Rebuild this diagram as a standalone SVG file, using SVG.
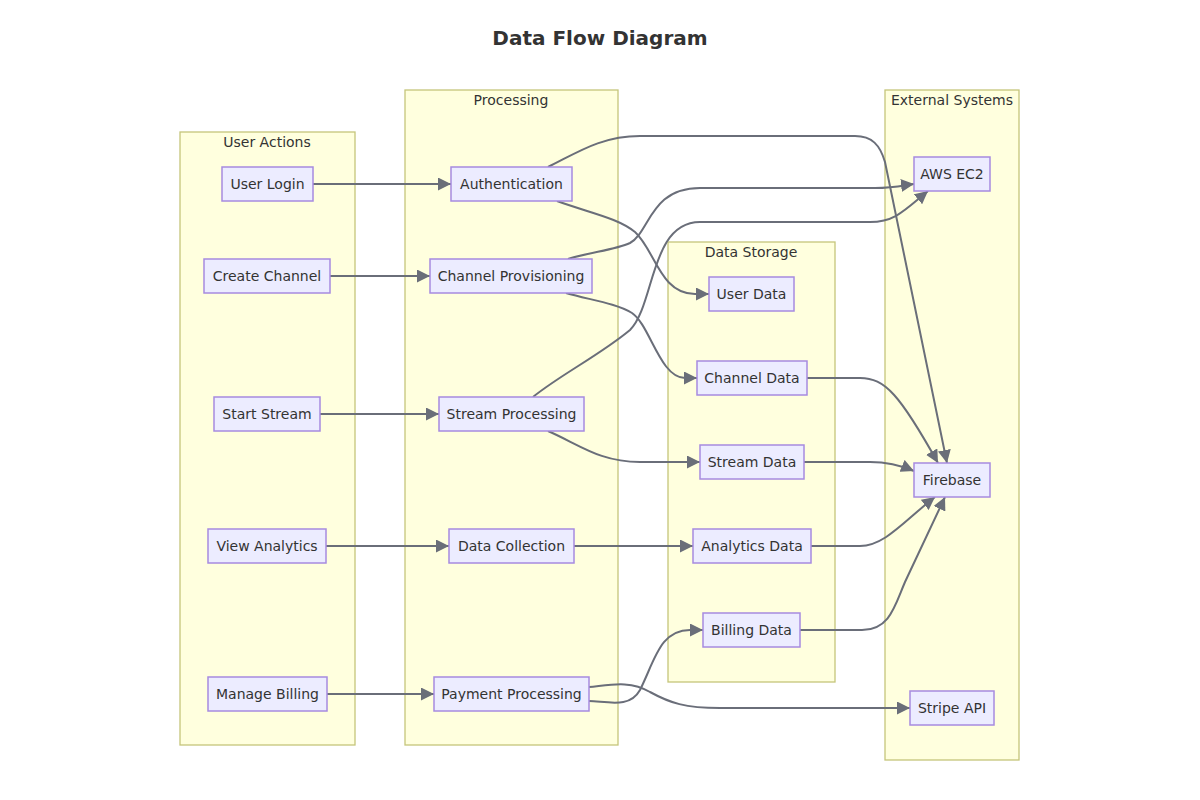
<svg xmlns="http://www.w3.org/2000/svg" width="1200" height="800" viewBox="0 0 1200 800">
<style>
  .title { font-family: "DejaVu Sans", Verdana, sans-serif; font-size: 20px; font-weight: bold; fill: #333333; }
  .cluster rect { fill: #ffffde; stroke: #c5c57a; stroke-width: 1.3; }
  .clabel { font-family: "DejaVu Sans", Verdana, sans-serif; font-size: 14px; fill: #333333; text-anchor: middle; }
  .node rect { fill: #ececff; stroke: #a78be0; stroke-width: 1.5; }
  .node text { font-family: "DejaVu Sans", Verdana, sans-serif; font-size: 14px; fill: #333333; text-anchor: middle; }
  .edges path { fill: none; stroke: #6a6e79; stroke-width: 2; }
</style>
<defs>
  <marker id="arrow" viewBox="0 0 10 10" refX="10" refY="5" markerUnits="userSpaceOnUse" markerWidth="13" markerHeight="13" orient="auto">
    <path d="M0,0 L10,5 L0,10 z" fill="#6a6e79"/>
  </marker>
</defs>
<rect width="1200" height="800" fill="#ffffff"/>
<text class="title" x="600" y="45" text-anchor="middle">Data Flow Diagram</text>

<g id="cluster-user-actions" class="cluster">
  <rect x="180" y="132" width="175" height="613"/>
  <text class="clabel" x="267" y="147">User Actions</text>
</g>
<g id="cluster-processing" class="cluster">
  <rect x="405" y="90" width="213" height="655"/>
  <text class="clabel" x="511" y="105">Processing</text>
</g>
<g id="cluster-data-storage" class="cluster">
  <rect x="668" y="242" width="167" height="440"/>
  <text class="clabel" x="751" y="257">Data Storage</text>
</g>
<g id="cluster-external" class="cluster">
  <rect x="885" y="90" width="134" height="670"/>
  <text class="clabel" x="952" y="105">External Systems</text>
</g>

<g id="connectors" class="edges">
  <path d="M313,184 L451,184" marker-end="url(#arrow)"/>
  <path d="M330,276 L430,276" marker-end="url(#arrow)"/>
  <path d="M320,414 L439,414" marker-end="url(#arrow)"/>
  <path d="M326,546 L449,546" marker-end="url(#arrow)"/>
  <path d="M327,694 L434,694" marker-end="url(#arrow)"/>
  <!-- Authentication -> User Data -->
  <path d="M557,201 C590,213 618,218 635,232 C655,250 660,294 695,294 L709,294" marker-end="url(#arrow)"/>
  <!-- Authentication -> Firebase -->
  <path d="M548,167 C575,154 600,136 640,136 L855,136 C872,136 880,145 885,162 L947,463" marker-end="url(#arrow)"/>
  <!-- Channel Provisioning -> AWS EC2 -->
  <path d="M568,259 C590,252 615,250 630,243 C650,232 650,188 700,188 L875,188 C895,188 905,185 914,184" marker-end="url(#arrow)"/>
  <!-- Stream Processing -> AWS EC2 -->
  <path d="M533,397 C560,375 600,355 630,330 C655,305 650,222 700,222 L870,222 C895,222 905,210 928,191" marker-end="url(#arrow)"/>
  <!-- Channel Provisioning -> Channel Data -->
  <path d="M566,293 C590,300 615,303 632,313 C650,325 660,378 685,378 L697,378" marker-end="url(#arrow)"/>
  <!-- Stream Processing -> Stream Data -->
  <path d="M548,431 C580,445 600,462 640,462 L700,462" marker-end="url(#arrow)"/>
  <!-- Data Collection -> Analytics Data -->
  <path d="M574,546 L693,546" marker-end="url(#arrow)"/>
  <!-- Payment Processing -> Billing Data -->
  <path d="M589,701 C610,702 630,708 640,690 C655,660 660,630 690,630 L703,630" marker-end="url(#arrow)"/>
  <!-- Payment Processing -> Stripe API -->
  <path d="M589,687 C610,685 630,680 650,692 C670,703 685,708 720,708 L910,708" marker-end="url(#arrow)"/>
  <!-- Channel Data -> Firebase -->
  <path d="M807,378 L860,378 C885,378 900,395 938,463" marker-end="url(#arrow)"/>
  <!-- Stream Data -> Firebase -->
  <path d="M804,462 L870,462 C885,462 900,465 914,471" marker-end="url(#arrow)"/>
  <!-- Analytics Data -> Firebase -->
  <path d="M811,546 L860,546 C885,546 905,520 935,497" marker-end="url(#arrow)"/>
  <!-- Billing Data -> Firebase -->
  <path d="M800,630 L862,630 C890,630 895,605 905,582 L945,497" marker-end="url(#arrow)"/>
</g>

<g id="node-user-login" class="node"><rect x="222" y="167" width="91" height="34"/><text x="267.5" y="189">User Login</text></g>
<g id="node-create-channel" class="node"><rect x="204" y="259" width="126" height="34"/><text x="267" y="281">Create Channel</text></g>
<g id="node-start-stream" class="node"><rect x="214" y="397" width="106" height="34"/><text x="267" y="419">Start Stream</text></g>
<g id="node-view-analytics" class="node"><rect x="208" y="529" width="118" height="34"/><text x="267" y="551">View Analytics</text></g>
<g id="node-manage-billing" class="node"><rect x="208" y="677" width="119" height="34"/><text x="267.5" y="699">Manage Billing</text></g>

<g id="node-authentication" class="node"><rect x="451" y="167" width="121" height="34"/><text x="511.5" y="189">Authentication</text></g>
<g id="node-channel-provisioning" class="node"><rect x="430" y="259" width="162" height="34"/><text x="511" y="281">Channel Provisioning</text></g>
<g id="node-stream-processing" class="node"><rect x="439" y="397" width="145" height="34"/><text x="511.5" y="419">Stream Processing</text></g>
<g id="node-data-collection" class="node"><rect x="449" y="529" width="125" height="34"/><text x="511.5" y="551">Data Collection</text></g>
<g id="node-payment-processing" class="node"><rect x="434" y="677" width="155" height="34"/><text x="511.5" y="699">Payment Processing</text></g>

<g id="node-user-data" class="node"><rect x="709" y="277" width="85" height="34"/><text x="751.5" y="299">User Data</text></g>
<g id="node-channel-data" class="node"><rect x="697" y="361" width="110" height="34"/><text x="752" y="383">Channel Data</text></g>
<g id="node-stream-data" class="node"><rect x="700" y="445" width="104" height="34"/><text x="752" y="467">Stream Data</text></g>
<g id="node-analytics-data" class="node"><rect x="693" y="529" width="118" height="34"/><text x="752" y="551">Analytics Data</text></g>
<g id="node-billing-data" class="node"><rect x="703" y="613" width="97" height="34"/><text x="751.5" y="635">Billing Data</text></g>

<g id="node-aws-ec2" class="node"><rect x="914" y="157" width="76" height="34"/><text x="952" y="179">AWS EC2</text></g>
<g id="node-firebase" class="node"><rect x="914" y="463" width="76" height="34"/><text x="952" y="485">Firebase</text></g>
<g id="node-stripe-api" class="node"><rect x="910" y="691" width="84" height="34"/><text x="952" y="713">Stripe API</text></g>
</svg>
